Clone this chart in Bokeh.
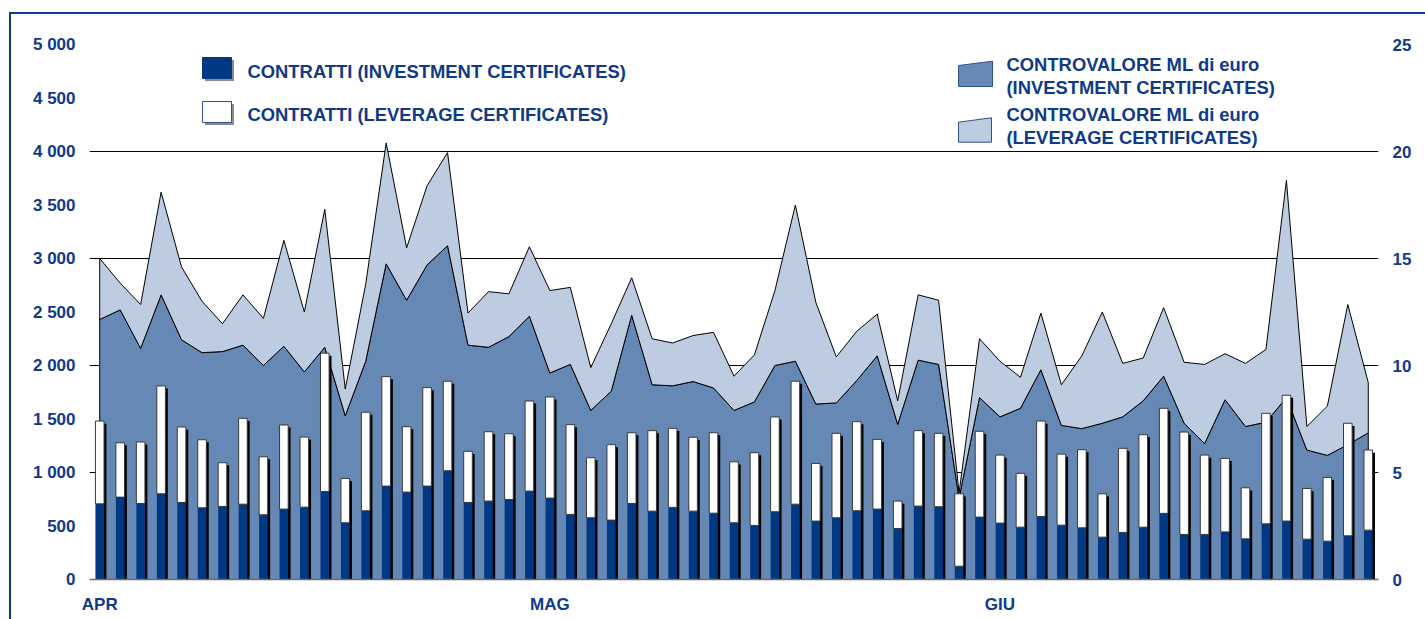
import numpy as np
from bokeh.plotting import figure
from bokeh.models import Range1d, LinearAxis, FixedTicker, ColumnDataSource
from bokeh.core.properties import value
from bokeh.embed import file_html
from bokeh.resources import INLINE

# ---------------- data ----------------
month_labels = ["APR", "MAG", "GIU"]
month_first_session = [0, 22, 44]

left_ticks = [0, 500, 1000, 1500, 2000, 2500, 3000, 3500, 4000, 4500, 5000]
left_tick_labels = ["0", "500", "1 000", "1 500", "2 000", "2 500", "3 000",
                    "3 500", "4 000", "4 500", "5 000"]
right_ticks = [0, 5, 10, 15, 20, 25]
right_tick_labels = ["0", "5", "10", "15", "20", "25"]

# number of contracts (left axis)
contratti_investment = [707, 770, 711, 801, 720, 670, 683, 704, 605, 658, 676, 823, 530, 642, 873,
                        817, 873, 1016, 720, 733, 748, 826, 761, 608, 577, 555, 711, 639, 674, 639,
                        620, 530, 505, 633, 704, 546, 577, 642, 658, 477, 686, 680, 124, 583, 527,
                        489, 589, 508, 483, 396, 440, 489, 618, 421, 421, 445, 380, 520, 546, 377,
                        358, 408, 461]
contratti_leverage = [774, 508, 574, 1008, 705, 636, 408, 802, 542, 786, 655, 1292, 415, 921, 1023,
                      611, 920, 837, 478, 648, 614, 842, 945, 839, 561, 705, 661, 752, 739, 690,
                      752, 570, 680, 886, 1149, 539, 789, 833, 652, 256, 705, 686, 677, 802, 636,
                      503, 892, 664, 730, 405, 786, 864, 982, 957, 742, 687, 477, 1033, 1176, 474,
                      596, 1052, 749]

# value in millions of euro (right axis)
controvalore_investment = [12.15, 12.6, 10.8, 13.3, 11.2, 10.6, 10.65, 10.95, 10.0, 10.9, 9.7, 10.85,
                           7.65, 10.2, 14.75, 13.05, 14.7, 15.6, 10.95, 10.85, 11.35, 12.3, 9.65,
                           10.05, 7.9, 8.8, 12.35, 9.1, 9.05, 9.25, 8.95, 7.9, 8.3, 10.0, 10.2, 8.2,
                           8.25, 9.3, 10.45, 7.25, 10.25, 10.05, 3.8, 8.5, 7.6, 8.0, 9.8, 7.2, 7.05,
                           7.3, 7.6, 8.35, 9.5, 7.3, 6.35, 8.4, 7.15, 7.35, 8.5, 6.05, 5.8, 6.3, 6.85]
controvalore_leverage = [2.85, 1.25, 2.05, 4.8, 3.4, 2.4, 1.3, 2.35, 2.2, 4.95, 2.8, 6.45, 1.25, 3.6,
                         5.65, 2.45, 3.7, 4.35, 1.5, 2.6, 2.0, 3.25, 3.85, 3.6, 2.0, 3.15, 1.75, 2.15,
                         2.0, 2.15, 2.6, 1.6, 2.2, 3.5, 7.3, 4.75, 2.15, 2.3, 1.95, 1.1, 3.05, 3.0,
                         0.25, 2.75, 2.6, 1.45, 2.65, 1.9, 3.4, 5.2, 2.5, 2.0, 3.2, 2.85, 3.7, 2.15,
                         2.95, 3.4, 10.15, 1.1, 2.3, 6.55, 2.35]

legend_bar_labels = ["CONTRATTI (INVESTMENT CERTIFICATES)", "CONTRATTI (LEVERAGE CERTIFICATES)"]
legend_area_labels = [["CONTROVALORE ML di euro", "(INVESTMENT CERTIFICATES)"],
                      ["CONTROVALORE ML di euro", "(LEVERAGE CERTIFICATES)"]]

# ---------------- styles ----------------
NAVY = "#003883"
MED = "#6588B5"
LIGHT = "#BDCCE0"
TXT = "#0F3A8A"
FRAME_BLUE = "#0B3C8F"
FONT = "Liberation Sans"

W, H = 1425, 619
FL, FR, FT, FB = 89, 1378, 44, 579
X0, X1 = -0.5, 62.5
Y0, Y1 = 0, 5000
px_x = (FR - FL) / (X1 - X0)
px_y = (FB - FT) / (Y1 - Y0)


def dx(px):
    return X0 + (px - FL) / px_x


def dy(py):
    return Y0 + (FB - py) / px_y


n = len(contratti_investment)
x = np.arange(n)

p = figure(width=W, height=H, x_range=Range1d(X0, X1), y_range=Range1d(Y0, Y1),
           output_backend="svg", toolbar_location=None,
           min_border_left=FL, min_border_right=W - FR, min_border_top=FT,
           min_border_bottom=H - FB)
p.extra_y_ranges = {"right": Range1d(0, 25)}
p.border_fill_color = None
p.background_fill_color = "white"
p.outline_line_color = None
p.styles = {
    "background": (f"linear-gradient({FRAME_BLUE},{FRAME_BLUE}) 9px 12px / 2px 700px no-repeat, "
                   f"linear-gradient({FRAME_BLUE},{FRAME_BLUE}) 9px 12px / 1500px 2px no-repeat, "
                   "#ffffff")
}

# grid
p.xgrid.visible = False
p.ygrid.ticker = FixedTicker(ticks=[1000, 2000, 3000, 4000, 5000])
p.ygrid.grid_line_color = "black"
p.ygrid.grid_line_width = 1

# stacked areas (right axis)
vi = np.array(controvalore_investment)
vt = vi + np.array(controvalore_leverage)
p.patch(np.concatenate([x, x[::-1]]), np.concatenate([vi, np.zeros(n)]),
        y_range_name="right", fill_color=MED, line_color="black", line_width=1)
p.patch(np.concatenate([x, x[::-1]]), np.concatenate([vt, vi[::-1]]),
        y_range_name="right", fill_color=LIGHT, line_color="black", line_width=1)

# stacked bars (left axis) with shadow
ci = np.array(contratti_investment)
ct = ci + np.array(contratti_leverage)
bar_w = 8.6 / px_x
src = ColumnDataSource(dict(x=x, inv=ci, tot=ct,
                            xs=x + 2.4 / px_x, ts=ct - 2.6 / px_y))
p.vbar(x="xs", top="ts", bottom=0, width=bar_w, fill_color="black", line_color=None, source=src)
p.vbar(x="x", top="inv", bottom=0, width=bar_w, fill_color=NAVY, line_color=None, source=src)
p.vbar(x="x", top="tot", bottom="inv", width=bar_w, fill_color="white",
       line_color="#3a3a3a", line_width=1, source=src)

# axes
p.xaxis.ticker = FixedTicker(ticks=month_first_session)
p.xaxis.major_label_overrides = {t: l for t, l in zip(month_first_session, month_labels)}
p.yaxis.ticker = FixedTicker(ticks=left_ticks)
p.yaxis.major_label_overrides = {t: l for t, l in zip(left_ticks, left_tick_labels)}

ry = LinearAxis(y_range_name="right", ticker=FixedTicker(ticks=right_ticks))
ry.major_label_overrides = {t: l for t, l in zip(right_ticks, right_tick_labels)}
p.add_layout(ry, "right")

for ax in [p.xaxis[0], p.yaxis[0], ry]:
    ax.major_label_text_font = FONT
    ax.major_label_text_font_style = "bold"
    ax.major_label_text_font_size = "17px"
    ax.major_label_text_color = TXT
    ax.axis_line_color = None
    ax.major_tick_line_color = None
    ax.minor_tick_line_color = None
    ax.major_tick_out = 0
    ax.major_tick_in = 0
p.yaxis[0].major_label_standoff = 14
ry.major_label_standoff = 14
p.xaxis[0].major_label_standoff = 15
p.xaxis[0].axis_line_color = "#6e6e6e"
p.xaxis[0].axis_line_width = 1.5

# legend (drawn manually)
SHADOW = "#8c8c8c"
LEG_SIZE = "18.4px"
sq = [(202, 231, 57, 78), (202, 231, 101, 122)]
for (l, r, t, b), fill, edge in zip(sq, [NAVY, "white"], [NAVY, "#2f4f8f"]):
    p.quad(left=[dx(l + 2.5)], right=[dx(r + 2.5)], top=[dy(t + 2.5)], bottom=[dy(b + 2.5)],
           fill_color=SHADOW, line_color=None)
    p.quad(left=[dx(l)], right=[dx(r)], top=[dy(t)], bottom=[dy(b)],
           fill_color=fill, line_color=edge, line_width=1)
p.text(x=[dx(247), dx(247)], y=[dy(70.5), dy(113.5)], text=legend_bar_labels,
       text_font=value(FONT), text_font_style="bold", text_font_size=LEG_SIZE,
       text_color=TXT, text_baseline="middle", text_align="left")

traps = [((958, 992), (65, 60.7), 86), ((958, 991), (121.7, 117.3), 141.7)]
for ((xl, xr), (ytl, ytr), yb), fill in zip(traps, [MED, LIGHT]):
    p.patch([dx(xl), dx(xr), dx(xr), dx(xl)], [dy(ytl), dy(ytr), dy(yb), dy(yb)],
            fill_color=fill, line_color="#2f4f8f", line_width=1)
area_text_y = [[64, 86.5], [114, 136.5]]
for lines, ys in zip(legend_area_labels, area_text_y):
    p.text(x=[dx(1006)] * 2, y=[dy(v) for v in ys], text=lines,
           text_font=value(FONT), text_font_style="bold", text_font_size=LEG_SIZE,
           text_color=TXT, text_baseline="middle", text_align="left")

open("out.html", "w").write(file_html(p, INLINE))
